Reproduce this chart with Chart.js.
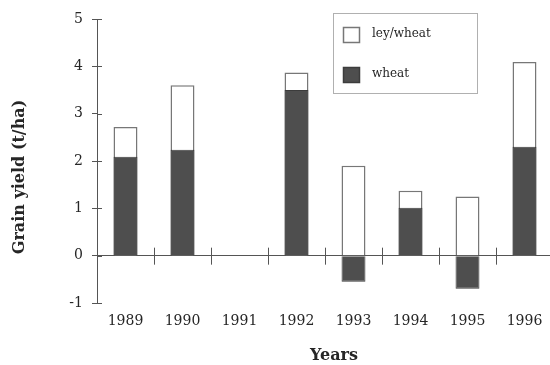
<!DOCTYPE html>
<html>
<head>
<meta charset="utf-8">
<script src="https://cdn.jsdelivr.net/npm/chart.js@4.4.0/dist/chart.umd.min.js"></script>
<style>
  html, body { margin: 0; padding: 0; background: #fff; overflow: hidden; }
  #wrap { width: 555px; height: 365px; }
</style>
</head>
<body>
<div id="wrap"><canvas id="yieldChart"></canvas></div>
<script>
const years = ['1989', '1990', '1991', '1992', '1993', '1994', '1995', '1996'];
const leyWheat = [2.72, 3.6, null, 3.87, 1.9, 1.37, 1.25, 4.09];
const wheat = [2.09, 2.24, null, 3.5, -0.55, 1.01, -0.7, 2.3];
const yMin = -1;
const yMax = 5;

const AXIS = '#555';
const DARK = '#4e4e4e';
const TEXT = '#262626';

// extra bits Chart.js doesn't draw: inward tick stubs, category ticks on the zero line,
// axis titles and the boxed legend inside the plot
const axisExtras = {
  id: 'axisExtras',
  afterDraw(chart) {
    const { ctx, chartArea, scales: { x, y } } = chart;
    ctx.save();
    ctx.strokeStyle = AXIS;
    ctx.lineWidth = 1;

    y.ticks.forEach(t => {
      const py = Math.round(y.getPixelForValue(t.value)) + 0.5;
      ctx.beginPath();
      ctx.moveTo(chartArea.left, py);
      ctx.lineTo(chartArea.left + 5, py);
      ctx.stroke();
    });

    const y0 = y.getPixelForValue(0);
    for (let i = 1; i < years.length; i++) {
      const px = Math.round((x.getPixelForValue(i - 1) + x.getPixelForValue(i)) / 2) + 0.5;
      ctx.beginPath();
      ctx.moveTo(px, y0 - 8);
      ctx.lineTo(px, y0 + 9);
      ctx.stroke();
    }

    ctx.fillStyle = TEXT;
    ctx.font = 'bold 16px "DejaVu Serif"';
    ctx.textAlign = 'center';
    ctx.textBaseline = 'middle';
    ctx.fillText('Years', 334, 356);
    ctx.save();
    ctx.translate(20, 177);
    ctx.rotate(-Math.PI / 2);
    ctx.fillText('Grain yield (t/ha)', 0, 0);
    ctx.restore();

    // legend
    ctx.strokeStyle = '#b0b0b0';
    ctx.strokeRect(333.5, 13.5, 144, 80);
    ctx.font = '12px "DejaVu Serif"';
    ctx.textAlign = 'left';
    chart.data.datasets.forEach((ds, i) => {
      const top = 27 + i * 40;
      ctx.fillStyle = ds.backgroundColor;
      ctx.fillRect(343, top, 17, 16);
      ctx.strokeStyle = ds.borderColor;
      ctx.lineWidth = 1.5;
      ctx.strokeRect(343.5, top + 0.5, 16, 15);
      ctx.fillStyle = TEXT;
      ctx.fillText(ds.label, 372, top + 7);
    });
    ctx.restore();
  }
};

new Chart(document.getElementById('yieldChart'), {
  type: 'bar',
  data: {
    labels: years,
    datasets: [
      {
        label: 'ley/wheat',
        data: leyWheat,
        backgroundColor: '#ffffff',
        borderColor: '#777777',
        borderWidth: 1.5,
        grouped: false,
        order: 2
      },
      {
        label: 'wheat',
        data: wheat,
        backgroundColor: DARK,
        borderColor: '#3c3c3c',
        borderWidth: 1,
        grouped: false,
        order: 1
      }
    ]
  },
  options: {
    responsive: true,
    maintainAspectRatio: false,
    animation: false,
    barPercentage: 0.42,
    categoryPercentage: 1,
    layout: { padding: { top: 19, right: 2, left: 0, bottom: 0 } },
    plugins: {
      legend: { display: false },
      tooltip: { enabled: false }
    },
    scales: {
      x: {
        grid: { display: false },
        border: { display: false },
        ticks: {
          color: TEXT,
          padding: 2,
          font: { family: '"DejaVu Serif"', size: 14 },
          maxRotation: 0
        },
        afterFit(scale) { scale.height = 62; }
      },
      y: {
        min: yMin,
        max: yMax,
        border: { display: true, color: AXIS, width: 1 },
        grid: {
          drawOnChartArea: true,
          color: c => (c.tick && c.tick.value === 0 ? AXIS : 'rgba(0,0,0,0)'),
          tickColor: AXIS,
          tickLength: 5
        },
        ticks: {
          stepSize: 1,
          color: TEXT,
          padding: 9,
          font: { family: '"DejaVu Serif"', size: 14 }
        },
        afterFit(scale) { scale.width = 97; }
      }
    }
  },
  plugins: [axisExtras]
});
</script>
</body>
</html>
